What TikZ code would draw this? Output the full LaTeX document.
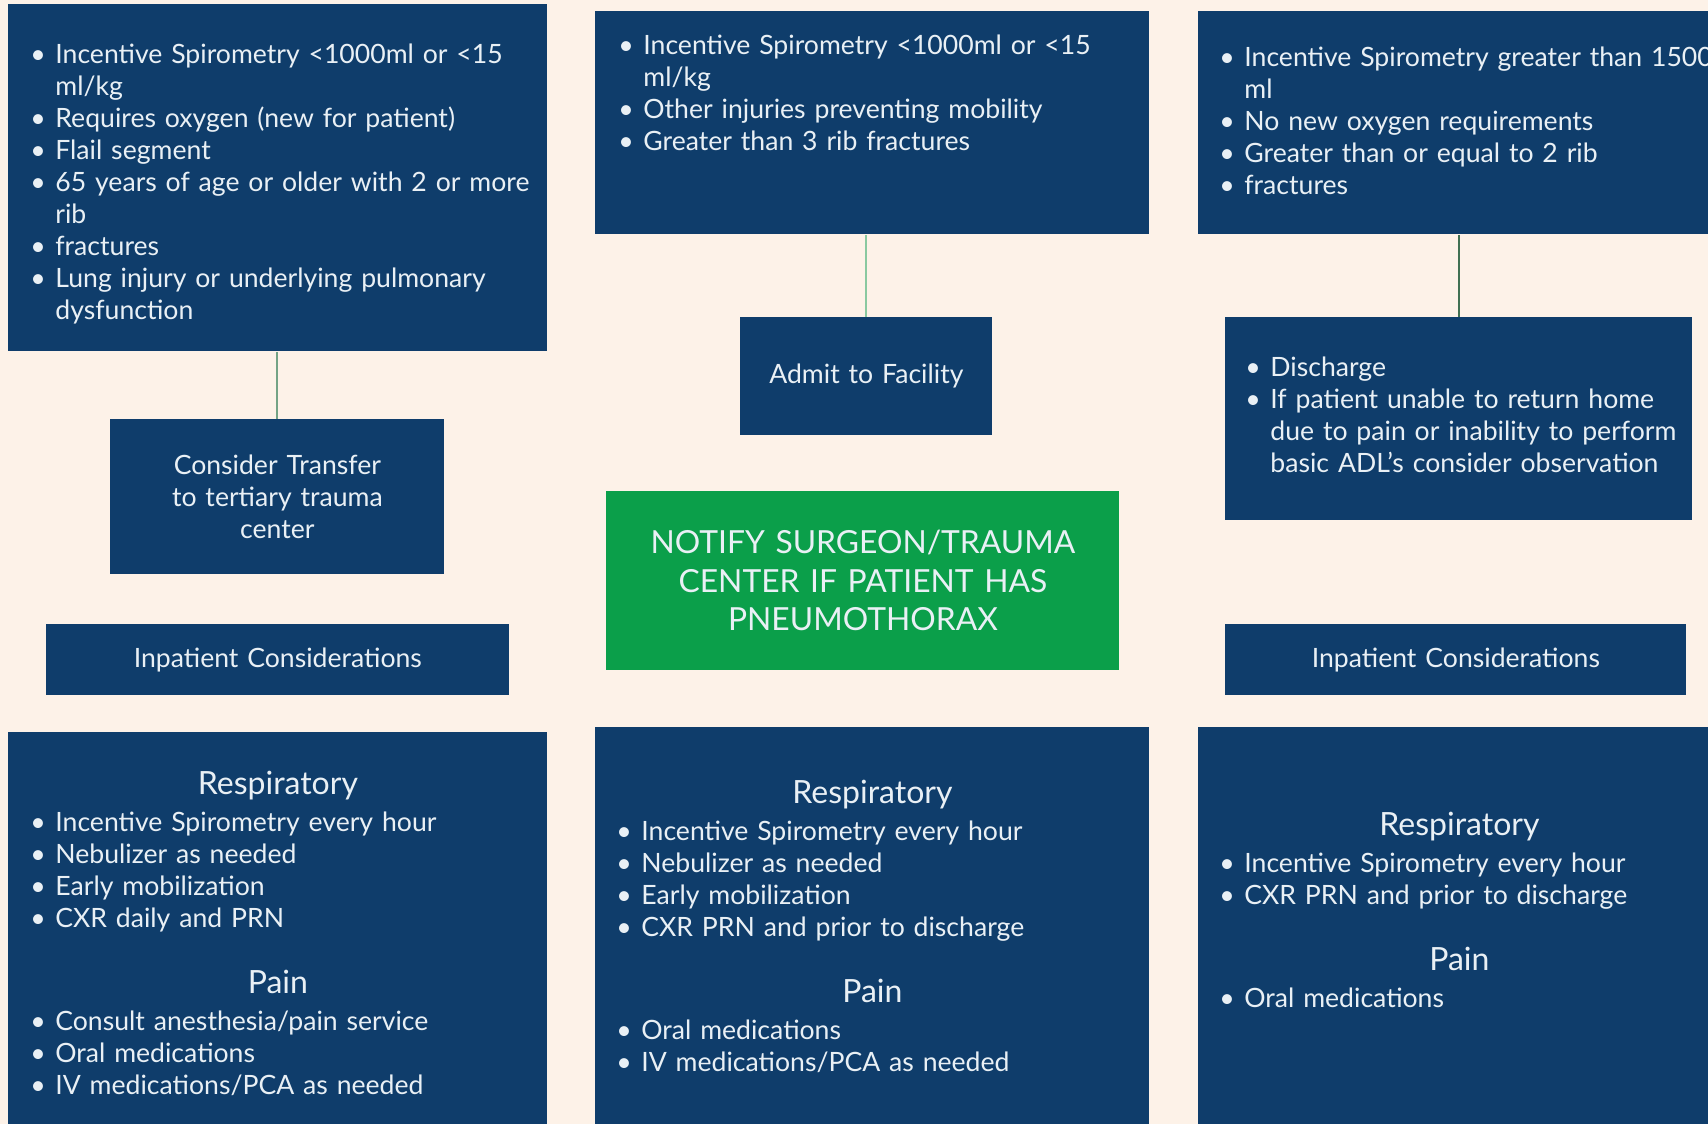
\documentclass[tikz,border=0pt]{standalone}
\usepackage{fontspec}
\setmainfont{Lato}
\definecolor{navy}{HTML}{0F3D6B}
\definecolor{leaf}{HTML}{0B9F4A}
\definecolor{paper}{HTML}{FDF2E8}
\definecolor{ink}{HTML}{E9F0F5}
\definecolor{linkgreen}{HTML}{6DBB88}
\newlength\bulletgap
\setlength\bulletgap{12.5pt}
\hyphenpenalty=10000
\newcommand{\bitem}{\par\noindent\hangindent=\bulletgap\hangafter=1\makebox[\bulletgap][l]{\textbullet}}
\newcommand{\heading}[1]{\par{\centering\fontsize{16}{16}\selectfont #1\par}\vspace{2.5pt}}
\newcommand{\boxtop}[3]{\parbox[c][#1][t]{\linewidth}{\vspace*{#2}#3\par}}

\begin{document}
\begin{tikzpicture}[x=0.5pt, y=-0.5pt,
    box/.style={fill=navy, text=ink, anchor=north west, inner ysep=0pt, font=\fontsize{13.3}{16}\selectfont},
    link/.style={draw=linkgreen, line width=1pt}]
    \clip (0,0) rectangle (1708,1124);
    \fill[paper] (0,0) rectangle (1708,1124);

    % criteria
    \node[box, align=left, inner xsep=11pt, text width=247.5pt, minimum height=173.5pt] (severe_criteria) at (8,4) {
        \bitem \mbox{Incentive Spirometry <1000ml or <15}\newline ml/kg
        \bitem Requires oxygen (new for patient)
        \bitem Flail segment
        \bitem \mbox{65 years of age or older with 2 or more}\newline rib
        \bitem fractures
        \bitem Lung injury or underlying pulmonary\newline dysfunction\par};
    \node[box, align=left, inner xsep=11.5pt, text width=254pt] (moderate_criteria) at (595,11) {\boxtop{111.5pt}{12pt}{
        \bitem Incentive Spirometry <1000ml or <15\newline ml/kg
        \bitem Other injuries preventing mobility
        \bitem Greater than 3 rib fractures}};
    \node[box, align=left, inner xsep=10.5pt, text width=260pt] (mild_criteria) at (1198,11) {\boxtop{111.5pt}{18pt}{
        \bitem \mbox{Incentive Spirometry greater than 1500}\newline ml
        \bitem No new oxygen requirements
        \bitem Greater than or equal to 2 rib
        \bitem fractures}};

    % dispositions
    \node[box, align=center, inner xsep=10pt, text width=147pt, minimum height=77.5pt] (consider_transfer) at (110,419) {Consider Transfer\\to tertiary trauma\\center};
    \node[box, align=center, inner xsep=10pt, text width=106pt, minimum height=59pt] (admit_facility) at (740,317) {Admit to Facility};
    \node[box, align=left, inner xsep=10pt, text width=213.5pt] (discharge_plan) at (1225,317) {\boxtop{101.5pt}{20pt}{
        \bitem Discharge
        \bitem If patient unable to return home\newline \mbox{due to pain or inability to perform}\newline basic ADL's consider observation}};

    \draw[link, draw=linkgreen!60!gray] (consider_transfer.north) -- (consider_transfer.north |- severe_criteria.south);
    \draw[link, draw=linkgreen!80!white] (admit_facility.north) -- (admit_facility.north |- moderate_criteria.south);
    \draw[link, draw=linkgreen!60!black] (discharge_plan.north) -- (discharge_plan.north |- mild_criteria.south);

    \node[box, fill=leaf, align=center, inner xsep=10pt, text width=236.5pt, minimum height=89.5pt, font=\fontsize{15.9}{19.25}\selectfont] (notify_surgeon) at (606,491) {NOTIFY SURGEON/TRAUMA\\CENTER IF PATIENT HAS\\PNEUMOTHORAX};

    \node[box, align=center, inner xsep=10pt, text width=211.5pt, minimum height=35.5pt] (inpatient_left) at (46,624) {Inpatient Considerations};
    \node[box, align=center, inner xsep=10pt, text width=210.5pt, minimum height=35.5pt] (inpatient_right) at (1225,624) {Inpatient Considerations};

    % inpatient care
    \node[box, align=left, inner xsep=11pt, text width=247.5pt] (care_severe) at (8,732) {\boxtop{204pt}{19.5pt}{
        \heading{Respiratory}
        \bitem Incentive Spirometry every hour
        \bitem Nebulizer as needed
        \bitem Early mobilization
        \bitem CXR daily and PRN
        \par\vspace{17pt}\heading{Pain}
        \bitem Consult anesthesia/pain service
        \bitem Oral medications
        \bitem IV medications/PCA as needed}};
    \node[box, align=left, inner xsep=10.5pt, text width=256pt] (care_moderate) at (595,727) {\boxtop{205pt}{26.5pt}{
        \heading{Respiratory}
        \bitem Incentive Spirometry every hour
        \bitem Nebulizer as needed
        \bitem Early mobilization
        \bitem CXR PRN and prior to discharge
        \par\vspace{17pt}\heading{Pain}
        \bitem Oral medications
        \bitem IV medications/PCA as needed}};
    \node[box, align=left, inner xsep=10.5pt, text width=240pt] (care_mild) at (1198,727) {\boxtop{205pt}{42.5pt}{
        \heading{Respiratory}
        \bitem Incentive Spirometry every hour
        \bitem CXR PRN and prior to discharge
        \par\vspace{17pt}\heading{Pain}
        \bitem Oral medications}};
\end{tikzpicture}
\end{document}
